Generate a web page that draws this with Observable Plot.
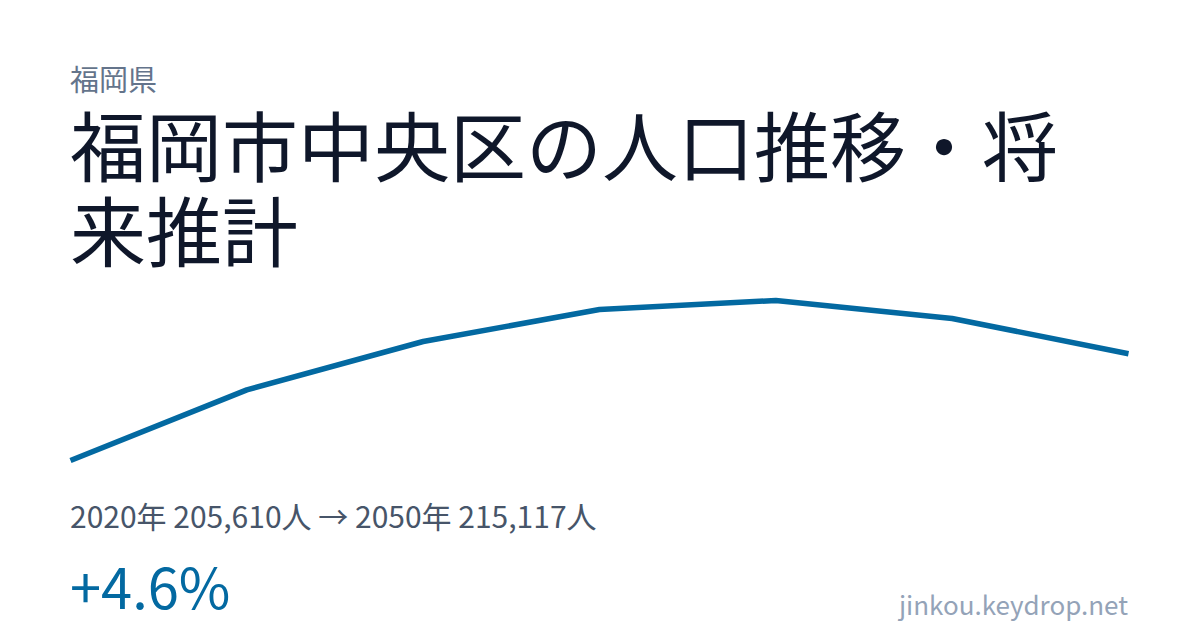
<!DOCTYPE html>
<html lang="ja">
<head>
<meta charset="utf-8">
<script src="https://cdn.jsdelivr.net/npm/d3@7"></script>
<script src="https://cdn.jsdelivr.net/npm/@observablehq/plot@0.6"></script>
<style>
  html, body { margin: 0; padding: 0; background: #ffffff; }
  body { width: 1200px; height: 630px; position: relative; overflow: hidden;
         font-family: "Noto Sans CJK JP", "Noto Sans", sans-serif; }
  .abs { position: absolute; white-space: nowrap; }
  #pref { left: 70px; top: 64px; font-size: 29px; line-height: 29px; color: #64748b; }
  #title { left: 70px; top: 101px; width: 1060px; font-size: 76px; line-height: 85px; color: #0f172a; white-space: normal; }
  #chart { position: absolute; left: 0; top: 280px; }
  #stats { left: 70px; top: 500px; font-size: 30px; line-height: 30px; color: #475569; }
  #pct { left: 70px; top: 557px; font-size: 56px; line-height: 56px; color: #0369a1; }
  #site { right: 72px; top: 591px; font-size: 26px; line-height: 26px; color: #94a3b8; }
</style>
</head>
<body>
<div id="pref" class="abs"></div>
<div id="title" class="abs"></div>
<div id="chart"></div>
<div id="stats" class="abs"></div>
<div id="pct" class="abs"></div>
<div id="site" class="abs"></div>
<script>
const prefecture = "福岡県";
const titleText = "福岡市中央区の人口推移・将来推計";
const siteText = "jinkou.keydrop.net";
const years = [2020, 2025, 2030, 2035, 2040, 2045, 2050];
const population = [205610, 211900, 216200, 219050, 219850, 218250, 215117];

const data = years.map((year, i) => ({year, pop: population[i]}));

document.getElementById("pref").textContent = prefecture;
document.getElementById("title").textContent = titleText;
document.getElementById("site").textContent = siteText;

const first = population[0], last = population[population.length - 1];
const fmt = d3.format(",");
document.getElementById("stats").textContent =
  `${years[0]}年 ${fmt(first)}人 → ${years[years.length - 1]}年 ${fmt(last)}人`;
const change = (last / first - 1) * 100;
document.getElementById("pct").textContent = (change >= 0 ? "+" : "") + change.toFixed(1) + "%";

const chart = Plot.plot({
  width: 1200,
  height: 200,
  marginTop: 20,
  marginBottom: 20,
  marginLeft: 70,
  marginRight: 72,
  x: {axis: null},
  y: {axis: null},
  style: {background: "transparent", overflow: "visible"},
  marks: [
    Plot.lineY(data, {x: "year", y: "pop", stroke: "#0369a1", strokeWidth: 5.5, strokeLinejoin: "miter", strokeLinecap: "butt"})
  ]
});
document.getElementById("chart").appendChild(chart);
</script>
</body>
</html>
